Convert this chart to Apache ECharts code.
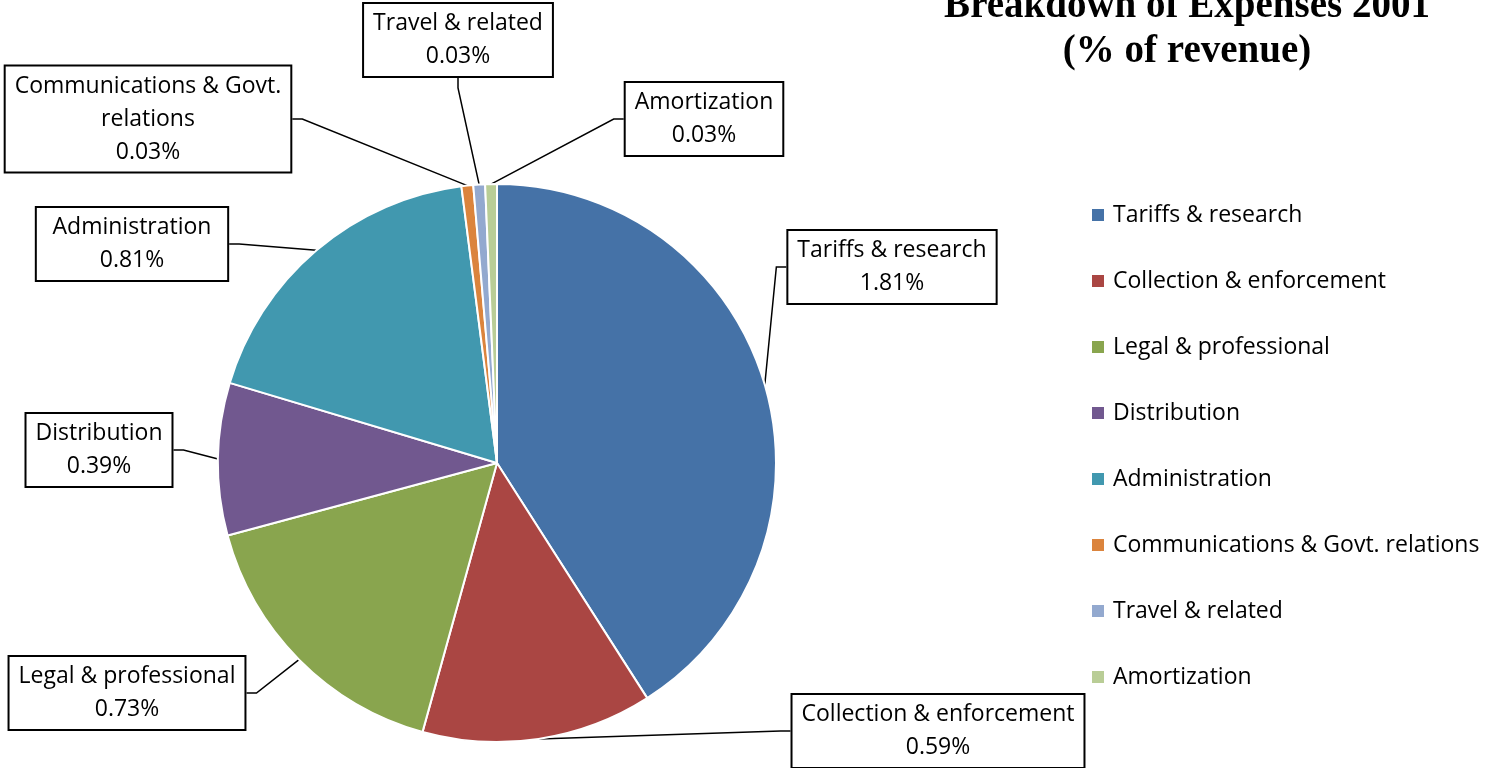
<!DOCTYPE html>
<html>
<head>
<meta charset="utf-8">
<script src="https://cdn.jsdelivr.net/npm/echarts@6/dist/echarts.min.js"></script>
<style>
  html, body { margin: 0; padding: 0; background: #fff; }
  #chart { width: 1490px; height: 768px; }
</style>
</head>
<body>
<div id="chart"></div>
<script>
var categories = ["Tariffs & research", "Collection & enforcement", "Legal & professional",
    "Distribution", "Administration", "Communications & Govt. relations",
    "Travel & related", "Amortization"];
var values = [1.81, 0.59, 0.73, 0.39, 0.81, 0.03, 0.03, 0.03];
var colors = ["#4572A7", "#AA4643", "#89A54E", "#71588F", "#4198AF", "#DB843D", "#93A9CF", "#B9CD96"];

// label box centres, in pixels
var labelPos = [[892, 267], [938, 731], [127, 693], [99, 450],
    [132, 244], [148, 119], [458, 40], [704, 119]];

var font = "'Open Sans', 'Noto Sans', sans-serif";

var chart = echarts.init(document.getElementById("chart"));

var data = [];
for (var i = 0; i < categories.length; i++) {
    data.push({ name: categories[i], value: values[i], itemStyle: { color: colors[i] } });
}

chart.setOption({
    animation: false,
    title: {
        text: "Breakdown of Expenses 2001\n(% of revenue)",
        left: 1182,
        top: -21,
        textAlign: "center",
        textStyle: {
            fontFamily: "'Liberation Serif', serif",
            fontWeight: "bold",
            fontSize: 39,
            lineHeight: 45,
            color: "#000"
        }
    },
    legend: {
        orient: "vertical",
        left: 1090,
        top: 201,
        padding: 0,
        icon: "rect",
        itemWidth: 14,
        itemHeight: 14,
        itemGap: 38,
        data: categories,
        textStyle: {
            fontFamily: font,
            fontSize: 23,
            lineHeight: 28,
            color: "#000",
            padding: [0, 0, 0, 3]
        }
    },
    series: [{
        type: "pie",
        center: [497, 463],
        radius: 279,
        startAngle: 90,
        clockwise: true,
        data: data,
        itemStyle: { borderColor: "#fff", borderWidth: 2 },
        label: {
            show: true,
            position: "outside",
            formatter: function (p) {
                return p.name.replace("Govt. ", "Govt.\n") + "\n" + p.value.toFixed(2) + "%";
            },
            fontFamily: font,
            fontSize: 23,
            lineHeight: 33,
            color: "#000",
            align: "center",
            backgroundColor: "#fff",
            borderColor: "#000",
            borderWidth: 2,
            padding: [5, 9, 1, 9]
        },
        labelLine: {
            show: true,
            length: 10,
            length2: 10,
            lineStyle: { color: "#000", width: 1.5 }
        },
        labelLayout: function (params) {
            var p = labelPos[params.dataIndex];
            return { x: p[0], y: p[1], align: "center", verticalAlign: "middle" };
        },
        emphasis: { disabled: true }
    }]
});
</script>
</body>
</html>
